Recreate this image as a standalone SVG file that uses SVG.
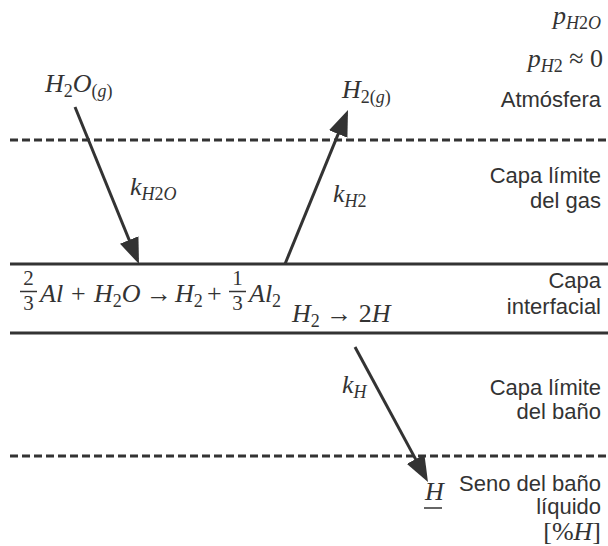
<svg xmlns="http://www.w3.org/2000/svg" width="608" height="546" viewBox="0 0 608 546">
<defs>
<style>
.m{font-family:"Liberation Serif","DejaVu Serif",serif;font-style:italic;fill:#333;font-size:26px}
.n{font-style:normal}
.sub{font-size:18px}
.fr{font-family:"Liberation Serif","DejaVu Serif",serif;font-size:21px;fill:#333;text-anchor:middle}
.s{font-family:"Liberation Sans",Arial,sans-serif;font-size:22px;fill:#333;text-anchor:end}
.solid{stroke:#333;stroke-width:3}
.dash{stroke:#333;stroke-width:3;stroke-dasharray:8 4}
.arr{stroke:#333;stroke-width:3;fill:none}
.bar{stroke:#333;stroke-width:1.5}
</style>
<marker id="ah" viewBox="0 0 26 20" refX="21" refY="10" markerWidth="26" markerHeight="20" markerUnits="userSpaceOnUse" orient="auto"><path d="M0,0 L26,10 L0,20 z" fill="#333"/></marker>
</defs>
<g id="layers">
<line class="dash" x1="10" y1="140" x2="608" y2="140"/>
<line class="solid" x1="10" y1="264" x2="608" y2="264"/>
<line class="solid" x1="10" y1="333" x2="608" y2="333"/>
<line class="dash" x1="10" y1="456" x2="608" y2="456"/>
</g>
<g id="connectors">
<line class="arr" x1="75" y1="107" x2="137.1" y2="259.4" marker-end="url(#ah)"/>
<line class="arr" x1="285" y1="264" x2="346.1" y2="114.6" marker-end="url(#ah)"/>
<line class="arr" x1="355" y1="347" x2="425.6" y2="477.6" marker-end="url(#ah)"/>
</g>
<g id="atmosphere">
<text class="m" x="601" y="24" text-anchor="end">p<tspan class="sub" dy="5">H<tspan class="n">2</tspan>O</tspan></text>
<text class="m" x="603" y="67" text-anchor="end">p<tspan class="sub" dy="5">H<tspan class="n">2</tspan></tspan><tspan class="n" dy="-5"> ≈ 0</tspan></text>
<text class="s" x="601" y="107">Atmósfera</text>
<text class="m" x="45" y="92">H<tspan class="sub n" dy="5">2</tspan><tspan dy="-5">O</tspan><tspan class="sub" dy="5"><tspan class="n">(</tspan>g<tspan class="n">)</tspan></tspan></text>
<text class="m" x="342" y="98">H<tspan class="sub n" dy="5">2</tspan><tspan class="sub"><tspan class="n">(</tspan>g<tspan class="n">)</tspan></tspan></text>
</g>
<g id="gas-boundary">
<text class="m" x="130" y="195">k<tspan class="sub" dy="5">H<tspan class="n">2</tspan>O</tspan></text>
<text class="m" x="333" y="202">k<tspan class="sub" dy="5">H<tspan class="n">2</tspan></tspan></text>
<text class="s" x="601" y="183">Capa límite</text>
<text class="s" x="601" y="208">del gas</text>
</g>
<g id="interface">
<text class="fr" x="28.5" y="285">2</text>
<line class="bar" x1="20" y1="291.5" x2="37" y2="291.5"/>
<text class="fr" x="28.5" y="310">3</text>
<text class="m" x="40" y="302">Al</text>
<text class="m n" x="71" y="302">+</text>
<text class="m" x="94" y="302">H<tspan class="sub n" dy="5">2</tspan><tspan dy="-5">O</tspan></text>
<text class="m n" x="146" y="302">→</text>
<text class="m" x="175" y="302">H<tspan class="sub n" dy="5">2</tspan></text>
<text class="m n" x="207" y="302">+</text>
<text class="fr" x="237.5" y="285">1</text>
<line class="bar" x1="229" y1="291.5" x2="246" y2="291.5"/>
<text class="fr" x="237.5" y="310">3</text>
<text class="m" x="249" y="302">Al<tspan class="sub n" dy="5">2</tspan></text>
<text class="m" x="292" y="322">H<tspan class="sub n" dy="5">2</tspan><tspan class="n" dy="-5"> → 2</tspan>H</text>
<text class="s" x="601" y="288">Capa</text>
<text class="s" x="601" y="314">interfacial</text>
</g>
<g id="bath-boundary">
<text class="m" x="342" y="393">k<tspan class="sub" dy="5">H</tspan></text>
<text class="s" x="601" y="395">Capa límite</text>
<text class="s" x="601" y="419">del baño</text>
</g>
<g id="bath-bulk">
<text class="m" x="425" y="500">H</text>
<line class="bar" x1="424" y1="508" x2="442" y2="508"/>
<text class="s" x="601" y="491">Seno del baño</text>
<text class="s" x="601" y="514">líquido</text>
<text class="m" x="601" y="540" text-anchor="end"><tspan class="n">[%</tspan>H<tspan class="n">]</tspan></text>
</g>
</svg>
